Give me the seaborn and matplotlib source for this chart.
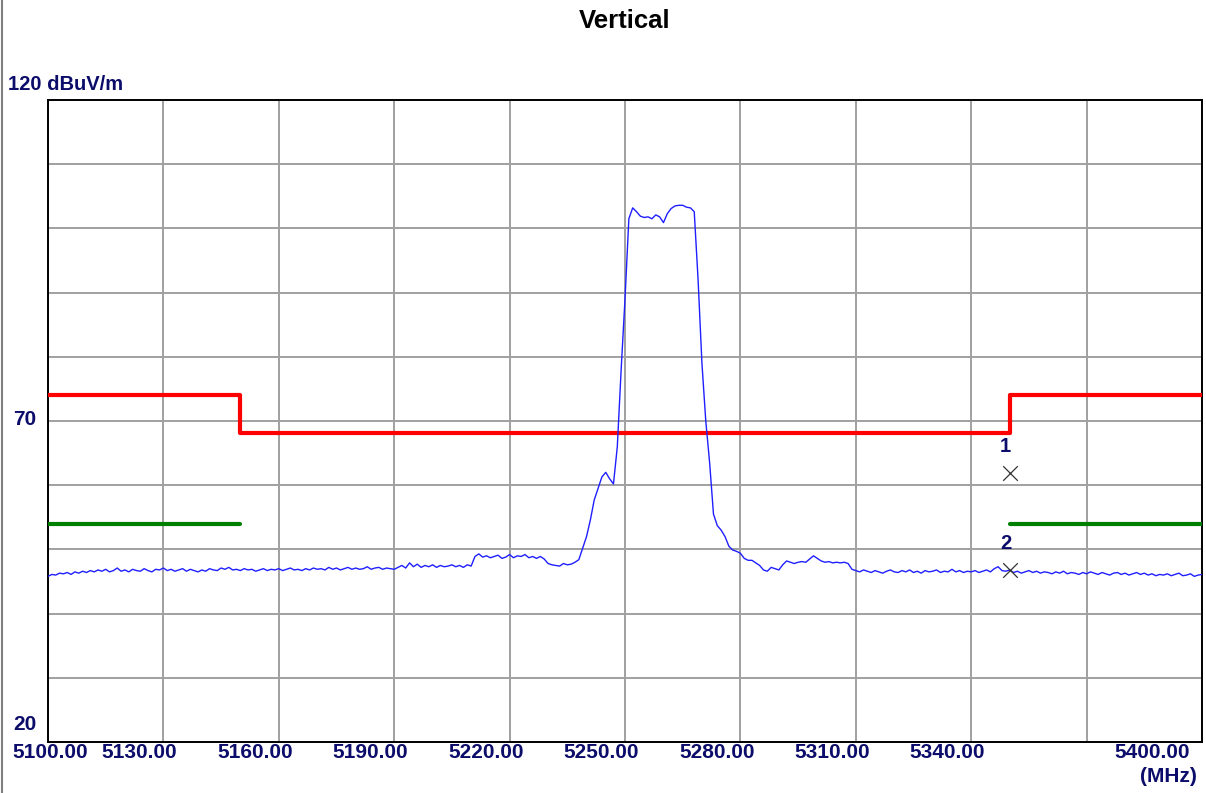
import numpy as np
import pandas as pd
import matplotlib
matplotlib.use("Agg")
import matplotlib.pyplot as plt
import seaborn as sns
from matplotlib.lines import Line2D

# ---------------- data ----------------
title = "Vertical"
y_unit_label = "120 dBuV/m"
x_unit_label = "(MHz)"
x_ticks = [5100, 5130, 5160, 5190, 5220, 5250, 5280, 5310, 5340, 5370, 5400]
x_tick_labels = ["5100.00", "5130.00", "5160.00", "5190.00", "5220.00",
                 "5250.00", "5280.00", "5310.00", "5340.00", "", "5400.00"]
y_min, y_max = 20, 120

trace_freq = np.arange(5100, 5401, 1.0)
trace_level = [
    45.8, 46.1, 46.0, 46.3, 46.2, 46.4, 46.1, 46.5, 46.3, 46.6,
    46.4, 46.7, 46.5, 46.8, 46.6, 46.9, 46.5, 46.7, 47.1, 46.6,
    46.8, 46.5, 46.9, 46.7, 46.6, 47.0, 46.7, 46.5, 46.9, 46.8,
    47.1, 46.7, 46.9, 46.6, 46.8, 47.0, 46.6, 46.9, 46.7, 46.5,
    46.8, 46.6, 47.0, 46.8, 46.7, 47.1, 46.9, 47.2, 46.8, 46.9,
    46.7, 47.0, 46.8, 46.9, 46.6, 46.8, 47.0, 46.7, 46.9, 46.8,
    47.0, 46.7, 46.9, 47.1, 46.8, 46.9, 46.7, 47.0, 46.8, 47.1,
    46.9, 47.0, 46.8, 47.2, 46.9, 47.1, 46.8, 47.0, 47.2, 46.9,
    47.1, 46.9, 47.0, 47.3, 46.9, 47.1, 47.2, 46.9, 47.1, 47.0,
    46.9, 47.2, 47.5, 47.1, 47.9, 47.3, 47.7, 47.2, 47.5, 47.3,
    47.6, 47.2, 47.5, 47.3, 47.4, 47.6, 47.3, 47.5, 47.2, 47.6,
    47.4, 48.9, 49.3, 48.8, 49.0, 48.7, 48.9, 49.1, 48.6, 48.8,
    49.2, 48.7, 49.0, 48.9, 49.2, 48.7, 48.9, 48.6, 48.9, 48.5,
    47.8, 47.6, 47.5, 47.4, 47.8, 47.6, 47.7, 48.0, 48.4, 50.2,
    52.0, 54.6, 57.7, 59.5, 61.3, 62.0, 61.0, 60.2, 66.0, 78.0,
    89.0, 101.5, 103.2, 102.6, 101.9, 101.7, 101.8, 101.5, 102.1, 101.8,
    100.9, 102.3, 103.1, 103.5, 103.6, 103.6, 103.3, 103.2, 102.6, 92.0,
    79.0, 70.0, 63.5, 55.5, 53.7, 53.0, 52.0, 50.5, 49.9, 49.7,
    49.4, 48.6, 48.3, 48.3, 47.9, 47.5, 46.8, 46.6, 47.2, 47.0,
    46.8, 47.6, 48.2, 48.0, 47.8, 48.0, 48.1, 48.0, 48.5, 49.0,
    48.6, 48.2, 48.0, 48.1, 47.9, 48.0, 47.9, 48.0, 47.8, 46.9,
    46.7, 46.5, 46.8, 46.6, 46.4, 46.7, 46.5, 46.3, 46.6, 46.8,
    46.5, 46.4, 46.7, 46.5, 46.8, 46.4, 46.6, 46.3, 46.7, 46.5,
    46.6, 46.8, 46.4, 46.6, 46.5, 46.9, 46.5, 46.7, 46.4, 46.6,
    46.5, 46.7, 46.4, 46.6, 46.8, 46.5, 47.0, 47.3, 46.7, 46.6,
    46.8, 46.4, 46.6, 46.3, 46.5, 46.7, 46.4, 46.6, 46.3, 46.5,
    46.4, 46.2, 46.5, 46.3, 46.6, 46.2, 46.4, 46.3, 46.1, 46.4,
    46.2, 46.5, 46.3, 46.1, 46.4, 46.2, 46.0, 46.3, 46.4, 46.1,
    46.3, 46.0, 46.2, 46.4, 46.1, 46.3, 46.0, 46.2, 45.9, 46.1,
    46.0, 46.2, 45.9, 46.1, 46.3, 45.9, 46.0, 46.2, 45.8, 46.0, 46.1,
]

peak_limit_freq = [5100, 5150, 5150, 5350, 5350, 5400]
peak_limit_level = [74.0, 74.0, 68.2, 68.2, 74.0, 74.0]
avg_limit_left_freq = [5100, 5150]
avg_limit_left_level = [54.0, 54.0]
avg_limit_right_freq = [5350, 5400]
avg_limit_right_level = [54.0, 54.0]

marker_ids = ["1", "2"]
marker_freq = [5350.0, 5350.0]
marker_level = [61.9, 46.8]

# ---------------- style ----------------
sns.set_style("white")
plt.rcParams["font.family"] = ["Liberation Sans", "DejaVu Sans"]
navy = "#0c0c6a"

W, H = 1206, 793
fig = plt.figure(figsize=(W / 100, H / 100), dpi=100)
ax_l, ax_r, ax_t, ax_b = 48, 1202, 100, 742
ax = fig.add_axes([ax_l / W, 1 - ax_b / H, (ax_r - ax_l) / W, (ax_b - ax_t) / H])

trace_df = pd.DataFrame({"freq": trace_freq, "level": trace_level})
sns.lineplot(data=trace_df, x="freq", y="level", ax=ax, color="#1f1fff",
             linewidth=1.0, estimator=None, sort=False, zorder=4)

sns.lineplot(x=peak_limit_freq, y=peak_limit_level, ax=ax, color="#ff0000",
             linewidth=3.0, estimator=None, sort=False, zorder=3)
sns.lineplot(x=avg_limit_left_freq, y=avg_limit_left_level, ax=ax, color="#008000",
             linewidth=3.0, estimator=None, sort=False, zorder=3)
sns.lineplot(x=avg_limit_right_freq, y=avg_limit_right_level, ax=ax, color="#008000",
             linewidth=3.0, estimator=None, sort=False, zorder=3)

ax.scatter(marker_freq, marker_level, marker="x", s=110, color="#333333",
           linewidths=0.9, zorder=5)
for mid, mf, ml in zip(marker_ids, marker_freq, marker_level):
    ax.annotate(mid, (mf, ml), xytext=(-3, 19), textcoords="offset points",
                ha="center", va="center", fontsize=14.5, fontweight="bold",
                color=navy, zorder=6)

ax.set_xlim(x_ticks[0], x_ticks[-1])
ax.set_ylim(y_min, y_max)
ax.set_xticks(x_ticks)
ax.set_yticks(np.arange(y_min, y_max + 1, 10))
ax.set_xticklabels([])
ax.set_yticklabels([])
ax.tick_params(length=0)
ax.grid(True, color="#a0a0a0", linewidth=1.4)
ax.set_axisbelow(True)
ax.set_xlabel("")
ax.set_ylabel("")
for sp in ax.spines.values():
    sp.set_visible(True)
    sp.set_color("black")
    sp.set_linewidth(1.4)

# x tick labels (placed shifted left of the gridlines, as in the reference)
label_px = [50, 139, 255, 370, 486, 601, 717, 832, 947, None, 1152]
for lab, px in zip(x_tick_labels, label_px):
    if not lab or px is None:
        continue
    fig.text(px / W, 1 - 752 / H, lab, ha="center", va="center",
             fontsize=15, fontweight="bold", color=navy)
fig.text(1168 / W, 1 - 776 / H, x_unit_label, ha="center", va="center",
         fontsize=15, fontweight="bold", color=navy)

# y labels
fig.text(8 / W, 1 - 84 / H, y_unit_label, ha="left", va="center",
         fontsize=14.5, fontweight="bold", color=navy)
fig.text(25 / W, 1 - 420 / H, str(70), ha="center", va="center",
         fontsize=15, fontweight="bold", color=navy)
fig.text(25 / W, 1 - 724 / H, str(y_min), ha="center", va="center",
         fontsize=15, fontweight="bold", color=navy)

# title
fig.text(625 / W, 1 - 21 / H, title, ha="center", va="center",
         fontsize=18.5, fontweight="bold", color="black")

# left frame edge of the image
fig.add_artist(Line2D([1.5 / W, 1.5 / W], [0, 1], transform=fig.transFigure,
                      color="#808080", linewidth=1.5))

fig.savefig("out.png", dpi=100)
